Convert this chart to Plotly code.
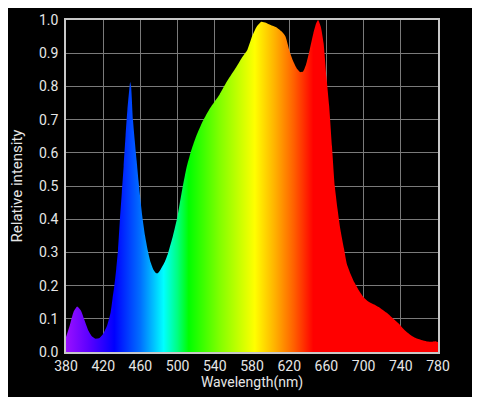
import plotly.graph_objects as go

wavelength = [380, 384, 388, 392, 396, 400, 404, 408, 412, 416, 420, 424, 428, 430, 432, 434, 436,
              438, 440, 442, 444, 446, 448, 449, 450, 452, 454, 456, 458, 460, 462, 465, 468, 471, 474, 477,
              479, 482, 486, 490, 495, 500, 505, 510, 515, 520, 527, 535, 545, 552, 556, 563, 570, 575, 580,
              585, 590, 595, 600, 606, 612, 616, 620, 624, 628, 632, 635, 638, 642, 646,
              649, 651, 654, 657, 660, 663, 666, 669, 672, 675, 679, 682, 686, 690, 694,
              700, 705, 712, 718, 725, 732, 738, 744, 750, 756, 762, 768, 774, 778, 780]
intensity = [0.045, 0.08, 0.12, 0.137, 0.125, 0.095, 0.065, 0.047, 0.040, 0.042, 0.055, 0.078, 0.12, 0.16, 0.2, 0.25, 0.31,
             0.40, 0.48, 0.56, 0.65, 0.73, 0.79, 0.813, 0.8, 0.70, 0.635, 0.575, 0.515, 0.46, 0.41, 0.35, 0.305, 0.27, 0.248, 0.237,
             0.238, 0.25, 0.27, 0.30, 0.35, 0.41, 0.49, 0.56, 0.61, 0.65, 0.695, 0.735, 0.775, 0.81, 0.828, 0.858, 0.89, 0.91, 0.95,
             0.98, 0.995, 0.992, 0.985, 0.978, 0.965, 0.95, 0.91, 0.878, 0.855, 0.843, 0.845, 0.865, 0.91, 0.96,
             0.99, 1.0, 0.98, 0.93, 0.83, 0.74, 0.62, 0.5, 0.43, 0.37, 0.31, 0.265, 0.235, 0.21, 0.19,
             0.165, 0.152, 0.142, 0.132, 0.118, 0.1, 0.085, 0.066, 0.052, 0.042, 0.036, 0.032, 0.031, 0.032, 0.03]

x_ticks = [380, 420, 460, 500, 540, 580, 620, 660, 700, 740, 780]
y_ticks = [0.0, 0.1, 0.2, 0.3, 0.4, 0.5, 0.6, 0.7, 0.8, 0.9, 1.0]

# spectral colour stops (wavelength nm, colour)
color_nm = [380, 405, 432, 460, 485, 500, 512, 545, 583, 605, 625, 646, 780]
color_hex = ["#9a10ff", "#5a00ff", "#0000ff", "#0070ff", "#00ffff", "#00ff80", "#00ff00",
             "#80ff00", "#ffff00", "#ffb000", "#ff6000", "#ff0000", "#ff0000"]

span = color_nm[-1] - color_nm[0]
colorscale = [[(n - color_nm[0]) / span, c] for n, c in zip(color_nm, color_hex)]

fig = go.Figure()
fig.add_trace(go.Scatter(
    x=wavelength, y=intensity, mode="lines",
    line=dict(width=0, color="rgba(0,0,0,0)", shape="spline", smoothing=0.5),
    fill="tozeroy",
    fillgradient=dict(type="horizontal", colorscale=colorscale,
                      start=color_nm[0], stop=color_nm[-1]),
    hoverinfo="skip", showlegend=False,
))

font = dict(family="Roboto, sans-serif", size=14, color="#e6e6e6")
fig.update_layout(
    width=480, height=397,
    margin=dict(l=58, r=50, t=12, b=53, autoexpand=False),
    paper_bgcolor="black", plot_bgcolor="black",
    font=font,
    xaxis=dict(range=[380, 780], tickvals=x_ticks, ticktext=[str(v) for v in x_ticks],
               showgrid=True, gridcolor="#7a7a7a", gridwidth=1,
               showline=True, linecolor="#c8c8c8", linewidth=1.5, mirror=True,
               zeroline=False, ticks="", tickfont=font, automargin=False,
               title=dict(text="Wavelength(nm)", font=font, standoff=2)),
    yaxis=dict(range=[0, 1.0], tickvals=y_ticks, ticktext=[f"{v:.1f}" for v in y_ticks],
               showgrid=True, gridcolor="#7a7a7a", gridwidth=1,
               showline=True, linecolor="#c8c8c8", linewidth=1.5, mirror=True,
               zeroline=False, ticks="", tickfont=font, automargin=False,
               ticklabelstandoff=3,
               title=dict(text="Relative intensity", font=dict(family="Roboto, sans-serif", size=15, color="#e6e6e6"), standoff=14)),
)

fig.write_html("out.html")
